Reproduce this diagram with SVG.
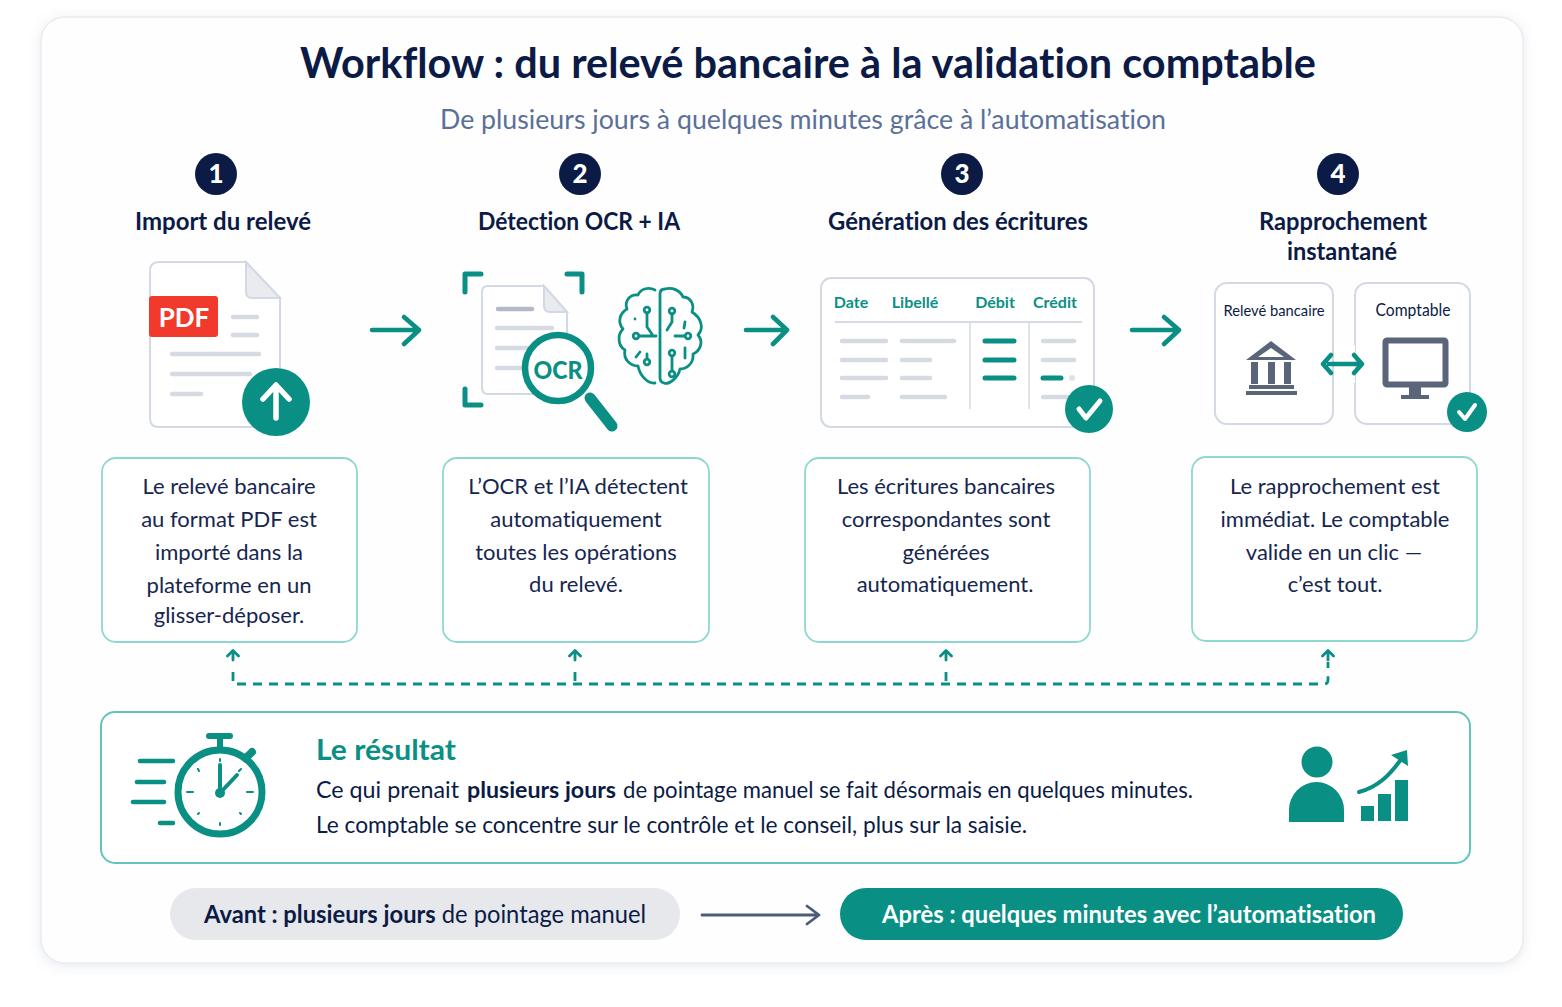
<svg xmlns="http://www.w3.org/2000/svg" width="1562" height="1007" viewBox="0 0 1562 1007">
<defs>
<style>
text{font-family:"Lato","Noto Sans","Liberation Sans",sans-serif;fill:#0b1b45;font-variant-ligatures:none}
.m{text-anchor:middle}
.h{font-size:24px;font-weight:700;text-anchor:middle}
.b{font-size:22px;text-anchor:middle;fill:#16264f}
.box{fill:#fff;stroke:#8fd8d0;stroke-width:1.8}
.card{fill:#fff;stroke:#d3d9e4;stroke-width:2}
.g{stroke:#d5dae3;stroke-width:4.5;stroke-linecap:round;fill:none}
.t{stroke:#0a8f84;stroke-width:4.6;stroke-linecap:round;stroke-linejoin:round;fill:none}
.f{fill:#0a8f84}
.d{fill:#5b6579}
.num{font-size:26px;font-weight:900;fill:#fff;text-anchor:middle}
.col{font-size:16px;font-weight:700;fill:#0a8f84;text-anchor:middle}
.l{font-size:22.5px}
</style>
<filter id="sh" x="-5%" y="-5%" width="110%" height="110%"><feDropShadow dx="0" dy="2" stdDeviation="6" flood-color="#8d98ae" flood-opacity=".22"/></filter>
</defs>
<rect width="1562" height="1007" fill="#fff"/>
<rect id="panel" x="41" y="17" width="1482" height="946" rx="24" fill="#fefefe" stroke="#e9ecf1" stroke-width="1.5" filter="url(#sh)"/>
<g id="header">
<text class="m" x="808" y="78" font-size="42" font-weight="700" textLength="1016" lengthAdjust="spacingAndGlyphs">Workflow : du relevé bancaire à la validation comptable</text>
<text class="m" x="803" y="129" font-size="27" style="fill:#5a7099" textLength="726" lengthAdjust="spacingAndGlyphs">De plusieurs jours à quelques minutes grâce à l’automatisation</text>
</g>
<g id="connectors">
<g class="t"><path d="M372 330H419M404 317L419 330L404 344"/><path d="M746 330H787M773 317L787 330L773 344"/><path d="M1132 330H1179M1164 317L1179 330L1164 344"/></g>
<path d="M237 684H1324Q1328 684 1328 680V674M233 681V668M575 681V668M946 681V668M1328 668V662" fill="none" stroke="#0a8f84" stroke-width="2.800" stroke-dasharray="9 7"/>
<g fill="none" stroke="#0a8f84" stroke-width="2.800" stroke-linecap="round" stroke-linejoin="round"><path d="M227.500 656L233 650.500L238.500 656M233 651V660M569.500 656L575 650.500L580.500 656M575 651V660M940.500 656L946 650.500L951.500 656M946 651V660M1322.500 656L1328 650.500L1333.500 656M1328 651V660"/></g>
<path d="M702 915H817M807 906L819 915L807 924" fill="none" stroke="#4d5a78" stroke-width="2.800" stroke-linecap="round" stroke-linejoin="round"/>
</g>
<g id="step1">
<circle cx="216" cy="174" r="21" fill="#0b1b45"/><text class="num" x="216" y="183">1</text>
<text class="h" x="223" y="230" textLength="176" lengthAdjust="spacingAndGlyphs">Import du relevé</text>
<path class="card" d="M159 262H246L280 298V418Q280 427 271 427H159Q150 427 150 418V271Q150 262 159 262Z"/>
<path d="M246 262L280 298H252Q246 298 246 292Z" fill="#e9ebef" stroke="#d3d9e4" stroke-width="2"/>
<rect x="149" y="296" width="69" height="41" rx="3" fill="#f23a2c"/>
<text class="m" x="184" y="327" font-size="26" font-weight="700" style="fill:#fff">PDF</text>
<path class="g" d="M233 317H257M233 335H257M172 354H259M172 374H250M172 394H201"/>
<circle cx="276" cy="402" r="34" class="f"/>
<path d="M276 418V387M263 399L276 385L289 399" fill="none" stroke="#fff" stroke-width="5.500" stroke-linecap="round" stroke-linejoin="round"/>
<rect class="box" x="102" y="458" width="255" height="184" rx="14"/>
<text class="b" x="229" y="494">Le relevé bancaire</text><text class="b" x="229" y="527">au format PDF est</text><text class="b" x="229" y="560">importé dans la</text><text class="b" x="229" y="593">plateforme en un</text><text class="b" x="229" y="623">glisser-déposer.</text>
</g>
<g id="step2">
<circle cx="580" cy="174" r="21" fill="#0b1b45"/><text class="num" x="580" y="183">2</text>
<text class="h" x="579" y="230" textLength="202" lengthAdjust="spacingAndGlyphs">Détection OCR + IA</text>
<path d="M465 292V274H481M567 274H582V292M465 389V405H481" fill="none" stroke="#0a8f84" stroke-width="5" stroke-linecap="round" stroke-linejoin="round"/>
<path class="card" d="M488 286H544L567 312V394H488Q482 394 482 388V292Q482 286 488 286Z"/>
<path d="M544 286L567 312H550Q544 312 544 306Z" fill="#e9ebef" stroke="#d3d9e4" stroke-width="2"/>
<path class="g" d="M497 328H552M497 348H530M497 368H525"/><path d="M498 309H532" stroke="#b4bac5" stroke-width="4.500" stroke-linecap="round"/>
<circle cx="558" cy="368" r="33" fill="#fff" stroke="#0a8f84" stroke-width="6.500"/>
<path d="M590 398L612 426" stroke="#0a8f84" stroke-width="11" stroke-linecap="round"/>
<text class="m" x="558" y="379" font-size="25" font-weight="900" style="fill:#0a8f84" textLength="49" lengthAdjust="spacingAndGlyphs">OCR</text>
<g id="brain" fill="none" stroke="#0a8f84" stroke-width="2.800" stroke-linecap="round" stroke-linejoin="round">
<path d="M655 290C649 287 641 288 638 295C630 294 624 301 627 309C620 313 617 322 623 329C617 335 618 346 625 350C623 359 630 366 638 366C640 376 648 384 655 383"/>
<path d="M660 294Q660 289 665 289C672 287 680 290 683 297C690 297 695 304 692 312C700 317 705 327 698 335C704 342 700 351 693 354C694 363 687 369 680 369C678 378 669 385 664 383Q660 382 660 378Z"/>
<path d="M647 313V327L652 334V336M639 336H656M647 359V354M636 357L640 352M635 319h.01M672 314V322L667 330M685 322L684 328M685 336H675M672 356V371M685 348V358"/>
<circle cx="647" cy="310" r="2.800"/><circle cx="636" cy="336" r="2.800"/><circle cx="672" cy="311" r="2.800"/><circle cx="688" cy="336" r="2.800"/><circle cx="672" cy="353" r="2.800"/><circle cx="647" cy="362" r="2.800"/><circle cx="672" cy="374" r="2.800"/>
</g>
<rect class="box" x="443" y="458" width="266" height="184" rx="14"/>
<text class="b" x="578" y="494">L’OCR et l’IA détectent</text><text class="b" x="576" y="527">automatiquement</text><text class="b" x="576" y="560">toutes les opérations</text><text class="b" x="576" y="592">du relevé.</text>
</g>
<g id="step3">
<circle cx="962" cy="174" r="21" fill="#0b1b45"/><text class="num" x="962" y="183">3</text>
<text class="h" x="958" y="230" textLength="260" lengthAdjust="spacingAndGlyphs">Génération des écritures</text>
<rect class="card" x="821" y="278" width="273" height="149" rx="10"/>
<text class="col" x="851" y="308">Date</text><text class="col" x="915" y="308">Libellé</text><text class="col" x="995" y="308">Débit</text><text class="col" x="1055" y="308">Crédit</text>
<path d="M835 322H1082" stroke="#d5dae3" stroke-width="2"/>
<path d="M970 323V409M1029 323V409" stroke="#d5dae3" stroke-width="1.500"/>
<path class="g" d="M842 341H886M902 341H954M842 360H886M902 360H930M842 378H886M902 378H930M842 397H868M902 397H945M1043 341H1074M1043 360H1074M1043 397H1068"/>
<path d="M985 341H1014M985 360H1014M985 378H1014M1043 378H1061" stroke="#0a8f84" stroke-width="5" stroke-linecap="round"/>
<circle cx="1072" cy="378" r="3" fill="#dfe3e9"/>
<circle cx="1089" cy="409" r="24" class="f"/>
<path d="M1079 409L1086 418L1100 401" fill="none" stroke="#fff" stroke-width="5" stroke-linecap="round" stroke-linejoin="round"/>
<rect class="box" x="805" y="458" width="285" height="184" rx="14"/>
<text class="b" x="946" y="494">Les écritures bancaires</text><text class="b" x="946" y="527">correspondantes sont</text><text class="b" x="946" y="560">générées</text><text class="b" x="945" y="592">automatiquement.</text>
</g>
<g id="step4">
<circle cx="1338" cy="174" r="21" fill="#0b1b45"/><text class="num" x="1338" y="183">4</text>
<text class="h" x="1343" y="230" textLength="168" lengthAdjust="spacingAndGlyphs">Rapprochement</text><text class="h" x="1342" y="260" textLength="110" lengthAdjust="spacingAndGlyphs">instantané</text>
<rect class="card" x="1215" y="283" width="118" height="141" rx="12"/>
<rect class="card" x="1355" y="283" width="115" height="141" rx="12"/>
<text class="m" x="1274" y="316" font-size="16" textLength="101" lengthAdjust="spacingAndGlyphs">Relevé bancaire</text>
<text class="m" x="1413" y="316" font-size="16.500" textLength="75" lengthAdjust="spacingAndGlyphs">Comptable</text>
<path class="d" d="M1271 341L1296 360H1246ZM1271 348L1258 357H1284Z" fill-rule="evenodd"/>
<path class="d" d="M1251 362H1258V384H1251ZM1268 362H1275V384H1268ZM1284 362H1291V384H1284ZM1249 385H1294V389H1249ZM1246 391H1297V395H1246Z"/>
<rect x="1335" y="345" width="20" height="38" fill="#fff"/>
<path class="t" d="M1329 364H1357M1331 355L1323 364L1331 373M1354 355L1362 364L1354 373"/>
<rect x="1385.500" y="340.500" width="60" height="44" rx="1.500" fill="#fff" stroke="#5b6579" stroke-width="6"/>
<path class="d" d="M1409 387H1421V395H1429V399H1401V395H1409Z"/>
<circle cx="1467" cy="412" r="20" class="f"/>
<path d="M1459 412L1465 419L1475 405" fill="none" stroke="#fff" stroke-width="4" stroke-linecap="round" stroke-linejoin="round"/>
<rect class="box" x="1192" y="457" width="285" height="184" rx="14"/>
<text class="b" x="1335" y="494">Le rapprochement est</text><text class="b" x="1335" y="527">immédiat. Le comptable</text><text class="b" x="1334" y="560">valide en un clic —</text><text class="b" x="1335" y="592">c’est tout.</text>
</g>
<g id="result">
<rect x="101" y="712" width="1369" height="151" rx="14" fill="#fff" stroke="#62c5bb" stroke-width="2"/>
<path class="t" d="M140 761H173M137 782H164M133 802H164M160 823H173"/>
<circle cx="220" cy="792" r="42" fill="#fff" stroke="#0a8f84" stroke-width="7"/>
<path d="M220 749V738M209 736H230" stroke="#0a8f84" stroke-width="6" stroke-linecap="round"/>
<path d="M247 757L252 752" stroke="#0a8f84" stroke-width="8" stroke-linecap="round"/>
<path d="M220 793V765M220 793L237 775" stroke="#0a8f84" stroke-width="4" stroke-linecap="round"/>
<circle cx="220" cy="793" r="5" class="f"/>
<path d="M220 759V761M220 823V825M187 792H193M247 792H253M198 769L199 771M241 769L239 771M198 814L199 813M241 814L240 813" stroke="#0a8f84" stroke-width="2" stroke-linecap="round"/>
<text x="316" y="760" font-size="28" font-weight="700" style="fill:#0a8f84" textLength="140" lengthAdjust="spacingAndGlyphs">Le résultat</text>
<text class="l" x="316" y="798" textLength="143" lengthAdjust="spacingAndGlyphs">Ce qui prenait</text>
<text class="l" x="467" y="798" font-weight="700" textLength="149" lengthAdjust="spacingAndGlyphs">plusieurs jours</text>
<text class="l" x="623" y="798" textLength="570" lengthAdjust="spacingAndGlyphs">de pointage manuel se fait désormais en quelques minutes.</text>
<text class="l" x="316" y="833" textLength="711" lengthAdjust="spacingAndGlyphs">Le comptable se concentre sur le contrôle et le conseil, plus sur la saisie.</text>
<circle cx="1317" cy="762" r="15.500" class="f"/>
<path class="f" d="M1289 822V810A27.500 28 0 0 1 1344 810V822Z"/>
<path class="f" d="M1361 806H1374V821H1361ZM1378 794H1391V821H1378ZM1395 780H1408V821H1395Z"/>
<path d="M1359 792C1378 787 1390 775 1402 758" fill="none" stroke="#0a8f84" stroke-width="4" stroke-linecap="round"/>
<path class="f" d="M1391 755L1407 750L1408 766Z"/>
</g>
<g id="before">
<rect x="170" y="888" width="510" height="52" rx="26" fill="#e6e8ec"/>
<text class="m" x="425" y="923" font-size="24.500" textLength="442" lengthAdjust="spacingAndGlyphs"><tspan font-weight="700">Avant : plusieurs jours</tspan> de pointage manuel</text>
</g>
<g id="after">
<rect x="840" y="888" width="563" height="52" rx="26" class="f"/>
<text class="m" x="1129" y="923" font-size="24.500" font-weight="700" style="fill:#fff" textLength="494" lengthAdjust="spacingAndGlyphs">Après : quelques minutes avec l’automatisation</text>
</g>
</svg>
